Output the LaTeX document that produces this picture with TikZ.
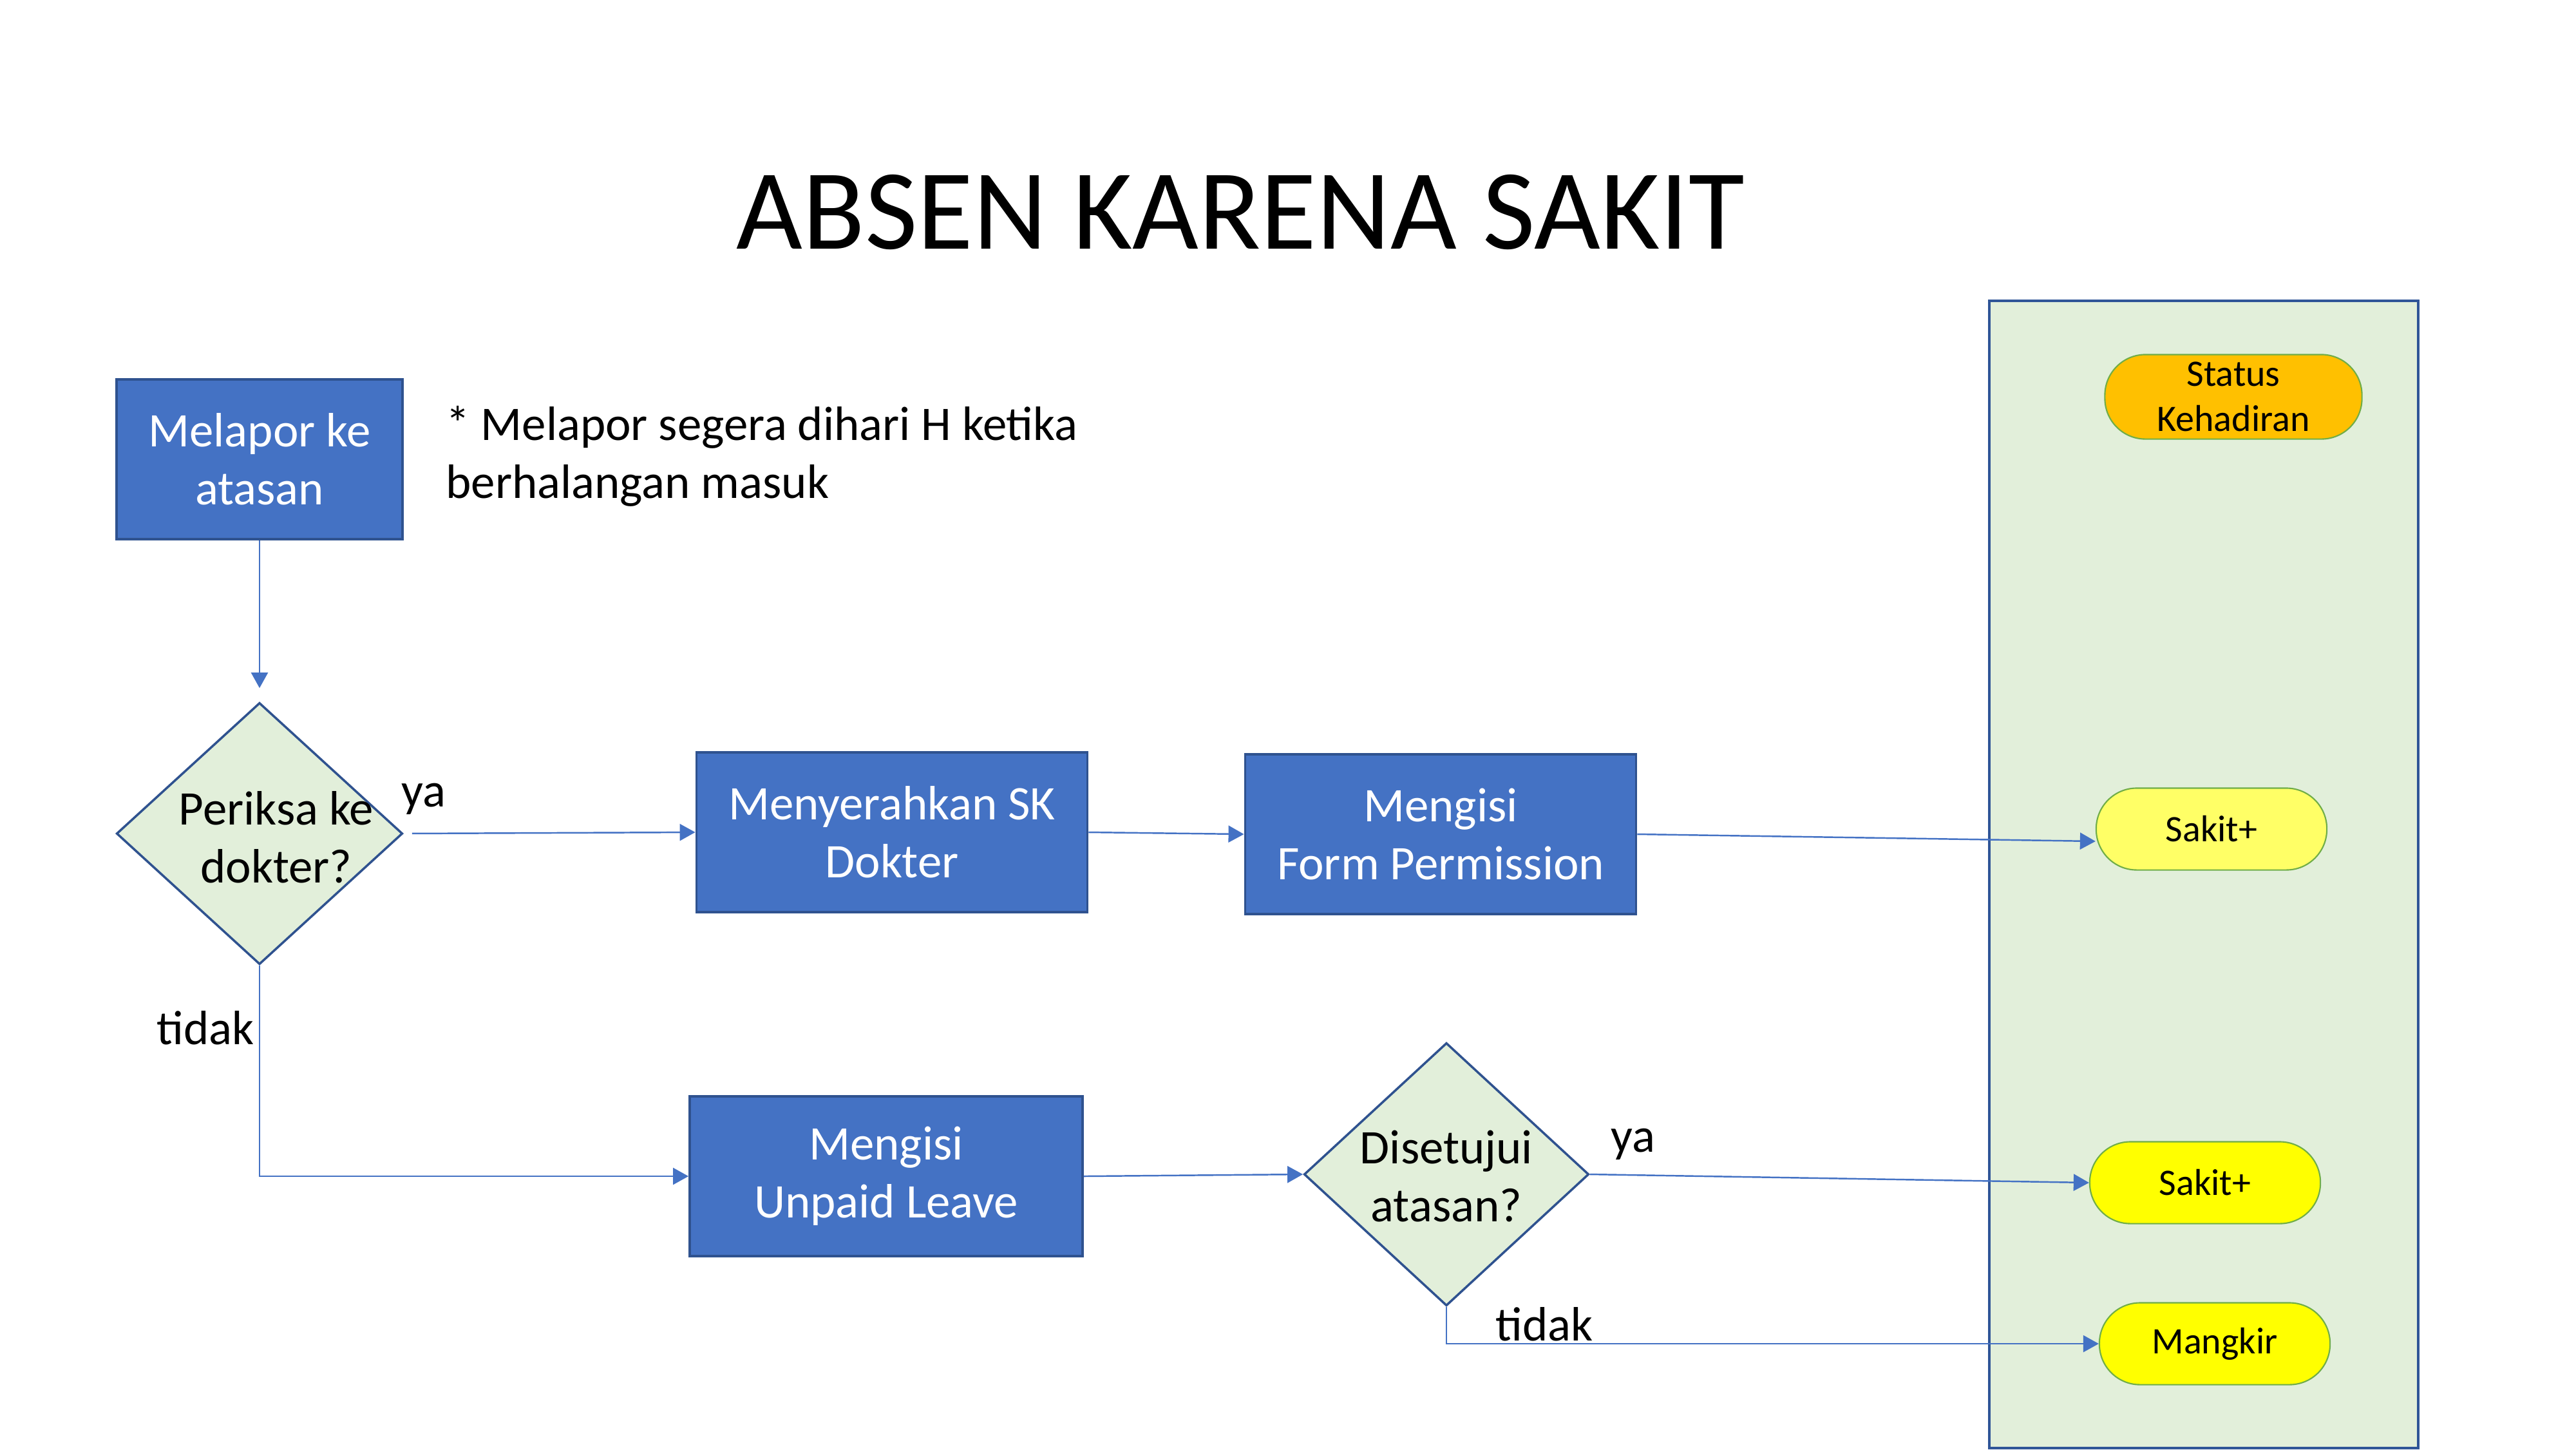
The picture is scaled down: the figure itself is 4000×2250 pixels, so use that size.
\documentclass[tikz,border=0pt]{standalone}
\usepackage{fontspec}
\setmainfont{Carlito}
\usetikzlibrary{shapes.geometric,arrows.meta}
\definecolor{boxblue}{HTML}{4472C4}
\definecolor{boxline}{HTML}{2F528F}
\definecolor{decgreen}{HTML}{E2EFDA}
\definecolor{panelline}{HTML}{2F5597}
\definecolor{pillline}{HTML}{70AD47}
\definecolor{statusorange}{HTML}{FFC000}
\definecolor{lightyellow}{HTML}{FFFF66}
\definecolor{pureyellow}{HTML}{FFFF00}
\tikzset{
  procbox/.style={rectangle, draw=boxline, line width=1pt, fill=boxblue, text=white,
    align=center, minimum width=6.07cm, minimum height=2.48cm,
    font=\fontsize{21.3}{25.5}\selectfont},
  decision/.style={diamond, draw=boxline, line width=1pt, fill=decgreen,
    minimum width=4.44cm, minimum height=4.06cm, inner sep=0pt},
  dectext/.style={align=center, font=\fontsize{21.3}{25.5}\selectfont},
  pill/.style={rectangle, rounded corners=0.63cm, draw=pillline, line width=0.6pt,
    minimum width=3.58cm, minimum height=1.27cm, align=center,
    font=\fontsize{16.5}{19.8}\selectfont},
  flow/.style={draw=boxblue, line width=0.7pt, -{Triangle[length=0.24cm,width=0.26cm]}},
  lbl/.style={font=\fontsize{21.3}{25.5}\selectfont}
}
\begin{document}
\begin{tikzpicture}
    [x=0.01cm,y=-0.01cm]
    \useasboundingbox (0,0) rectangle (4000,2250);
    %title
    \node[font=\fontsize{50.5}{60}\selectfont] (title) at (1926,329) {ABSEN KARENA SAKIT};
    %status panel
    \draw[fill=decgreen, draw=panelline, line width=1.1pt] (3089,467) rectangle (3755,2248);
    \node[pill, fill=statusorange, minimum width=3.99cm, minimum height=1.27cm] (status) at (3468,616) {Status\\Kehadiran};
    \node[pill, fill=lightyellow] (sakitA) at (3434,1287) {Sakit+};
    \node[pill, fill=pureyellow] (sakitB) at (3424,1836) {Sakit+};
    \node[pill, fill=pureyellow] (mangkir) at (3439,2086) {Mangkir};
    %process boxes
    \node[procbox, minimum width=4.44cm] (melapor) at (403,713) {Melapor ke\\atasan};
    \node[lbl, anchor=west, align=left] (catatan) at (680,708) {* Melapor segera dihari H ketika\\berhalangan masuk};
    \node[procbox] (menyerahkan) at (1385,1292) {Menyerahkan SK\\Dokter};
    \node[procbox] (form) at (2237,1295) {Mengisi\\Form Permission};
    \node[procbox, minimum width=6.10cm] (unpaid) at (1376,1826) {Mengisi\\Unpaid Leave};
    %decisions
    \node[decision] (periksa) at (403,1294) {};
    \node[dectext] (periksatxt) at (429,1300) {Periksa ke\\dokter?};
    \node[decision, minimum width=4.42cm, minimum height=4.08cm] (disetujui) at (2246,1823) {};
    \node[dectext] (disetujuitxt) at (2246,1826) {Disetujui\\atasan?};
    %labels
    \node[lbl] (yaA) at (658,1240) {ya};
    \node[lbl] (tidakA) at (319,1596) {tidak};
    \node[lbl] (yaB) at (2536,1776) {ya};
    \node[lbl] (tidakB) at (2398,2056) {tidak};
    %connectors
    \draw[flow, shorten >=0.21cm] (melapor.south) -- (periksa.north);
    \draw[flow, shorten <=0.13cm] (periksa.east) -- (menyerahkan.west);
    \draw[flow] (menyerahkan.east) -- (form.west);
    \draw[flow] (form.east) -- ([yshift=-0.19cm]sakitA.west);
    \draw[flow] (periksa.south) |- (unpaid.west);
    \draw[flow] (unpaid.east) -- (disetujui.west);
    \draw[flow] (disetujui.east) -- (sakitB.west);
    \draw[flow] (disetujui.south) |- (mangkir.west);
\end{tikzpicture}
\end{document}
